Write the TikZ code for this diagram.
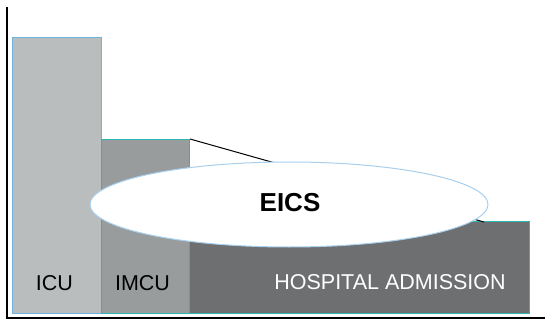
\documentclass[tikz,border=0pt]{standalone}
\usepackage{fontspec}
\setmainfont{Liberation Sans}
\usetikzlibrary{shapes.geometric}
\definecolor{icugray}{HTML}{BABDBE}
\definecolor{imcugray}{HTML}{999C9D}
\definecolor{hospgray}{HTML}{6E6F71}
\definecolor{edgeblue}{HTML}{6CB4E2}
\definecolor{edgeteal}{HTML}{2CB8B2}
\definecolor{ovalblue}{HTML}{A8D0EE}
\begin{document}
\begin{tikzpicture}[x=1pt, y=-1pt,
	bar/.style={draw, line width=1pt, inner sep=0pt, anchor=south west},
	label/.style={font=\fontsize{21.5}{25}\selectfont, inner sep=0pt}]
	\useasboundingbox (0,0) rectangle (545,320);
	% bars
	\node[bar, draw=edgeblue, fill=icugray, minimum width=89pt, minimum height=276pt] (icu) at (12,314) {};
	\node[bar, draw=edgeteal, fill=imcugray, minimum width=88pt, minimum height=174pt] (imcu) at (101,314) {};
	\node[bar, draw=edgeteal, fill=hospgray, minimum width=340pt, minimum height=92pt] (hosp) at (189,314) {};
	\node[label] (icu label) at (54.5,283) {ICU};
	\node[label] (imcu label) at (142.5,283) {IMCU};
	\node[label, text=white] (hosp label) at (390,282) {HOSPITAL ADMISSION};
	
	% axes
	\draw[line width=2pt] (7,7) -- (7,317.5) coordinate (origin) -- (545,317.5) coordinate (x end);
	
	% pointer and oval
	\coordinate (hosp tip) at (484,222);
	\draw[line width=1pt] (imcu.north east) -- (hosp tip);
	\node[ellipse, draw=ovalblue, fill=white, line width=1pt, minimum width=398pt, minimum height=85pt, inner sep=0pt] (eics) at (289,204.5) {};
	\node[font=\fontsize{26}{30}\selectfont\bfseries] (eics label) at (290,203) {EICS};
\end{tikzpicture}
\end{document}
